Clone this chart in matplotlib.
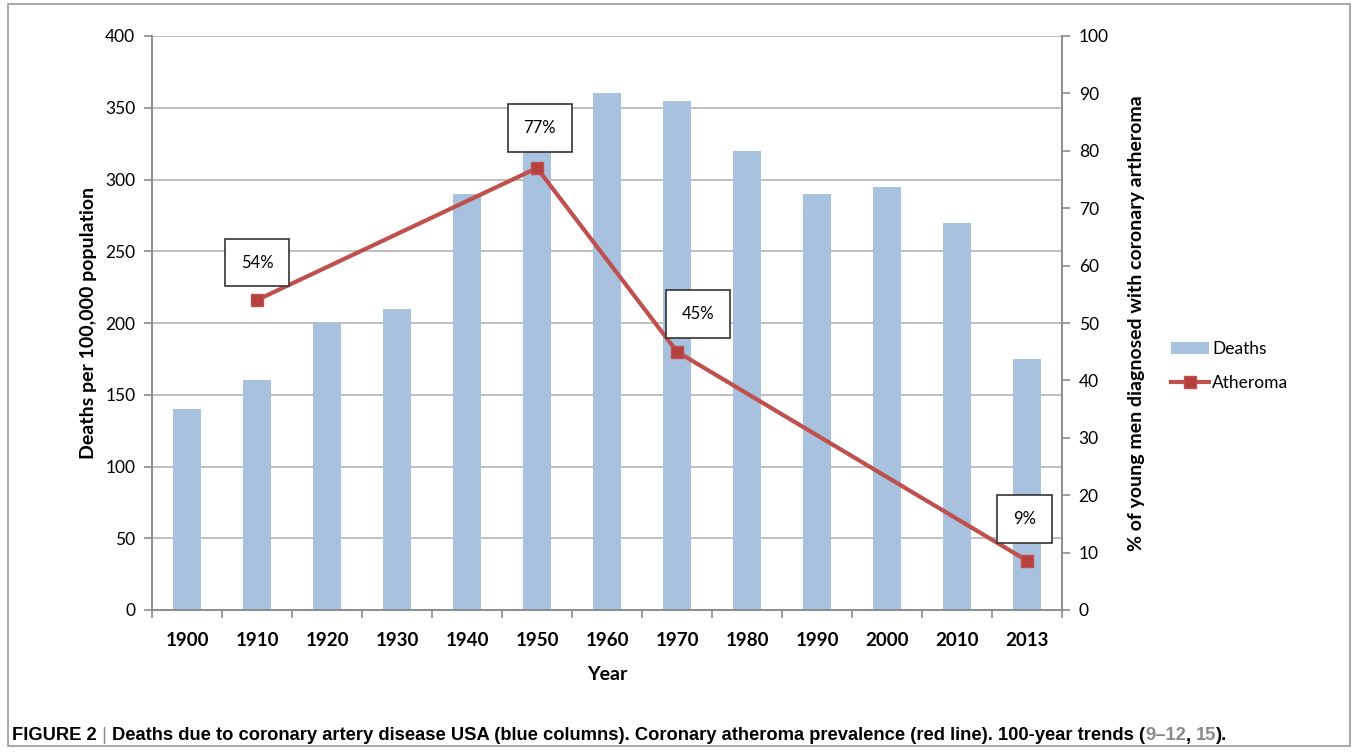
import numpy as np
import matplotlib
matplotlib.use("Agg")
import matplotlib.pyplot as plt
from matplotlib.patches import Rectangle

# ---------------- data ----------------
years = ["1900", "1910", "1920", "1930", "1940", "1950", "1960",
         "1970", "1980", "1990", "2000", "2010", "2013"]
deaths = [140, 160, 200, 210, 290, 320, 360, 355, 320, 290, 295, 270, 175]

athero_years = ["1910", "1950", "1970", "2013"]
athero_pct = [54, 77, 45, 8.6]
athero_labels = ["54%", "77%", "45%", "9%"]

left_ticks = [0, 50, 100, 150, 200, 250, 300, 350, 400]
right_ticks = [0, 10, 20, 30, 40, 50, 60, 70, 80, 90, 100]

BAR_COLOR = "#a7c1df"
LINE_COLOR = "#c0504d"
MARK_COLOR = "#b5403d"
GRID_COLOR = "#b4b4b4"
SPINE_COLOR = "#8c8c8c"

plt.rcParams["font.family"] = ["Lato", "DejaVu Sans"]

fig = plt.figure(figsize=(13.58, 7.52), dpi=100)
ax = fig.add_axes([152 / 1358, 1 - 610 / 752, 910 / 1358, 574 / 752])
ax2 = ax.twinx()

# ---------------- bars ----------------
x = np.arange(len(years))
ax.bar(x, deaths, width=0.4, color=BAR_COLOR, zorder=2, label="Deaths")
ax.set_xlim(-0.5, len(years) - 0.5)
ax.set_ylim(0, 400)
ax.set_yticks(left_ticks)
ax.yaxis.grid(True, color=GRID_COLOR, linewidth=1.2, zorder=0)
ax.set_axisbelow(True)

ax.set_xticks(x)
ax.set_xticklabels(years, fontsize=13.5, fontweight="bold")
ax.set_xticks(np.arange(len(years) + 1) - 0.5, minor=True)
ax.tick_params(axis="x", which="major", length=0, pad=16)
ax.tick_params(axis="x", which="minor", length=6, color=SPINE_COLOR, width=1.2)
ax.tick_params(axis="y", length=6, color=SPINE_COLOR, width=1.2, labelsize=12.5, pad=6)

ax.set_xlabel("Year", fontsize=14, fontweight="bold", labelpad=12)
ax.set_ylabel("Deaths per 100,000 population", fontsize=14, fontweight="bold", labelpad=6)

# ---------------- line (right axis) ----------------
xi = [years.index(y) for y in athero_years]
ax2.plot(xi, athero_pct, color=LINE_COLOR, linewidth=3, marker="s", markersize=9,
         markerfacecolor=MARK_COLOR, markeredgecolor=LINE_COLOR, zorder=4, label="Atheroma")
ax2.set_ylim(0, 100)
ax2.set_yticks(right_ticks)
ax2.tick_params(axis="y", length=6, color=SPINE_COLOR, width=1.2, labelsize=12.5, pad=6)
ax2.set_ylabel("% of young men diagnosed with coronary artheroma", fontsize=14,
               fontweight="bold", rotation=90, labelpad=14)

offsets = [(0, 27), (2, 29), (15, 27), (-2, 30)]
for xv, yv, lab, off in zip(xi, athero_pct, athero_labels, offsets):
    ax2.annotate(lab, (xv, yv), xytext=off, textcoords="offset points",
                 ha="center", va="center", fontsize=12,
                 bbox=dict(boxstyle="square,pad=0.95", fc="white", ec="#333333", lw=1.2),
                 zorder=6)

for a in (ax, ax2):
    a.spines["top"].set_visible(False)
    for s in ("left", "right", "bottom"):
        a.spines[s].set_color(SPINE_COLOR)
        a.spines[s].set_linewidth(1.2)

# ---------------- legend ----------------
h1, l1 = ax.get_legend_handles_labels()
h2, l2 = ax2.get_legend_handles_labels()
fig.legend(h1 + h2, l1 + l2, loc="center left", bbox_to_anchor=(1155 / 1358, 1 - 366 / 752),
           frameon=False, fontsize=12.5, handlelength=2.2, handletextpad=0.2, labelspacing=1.0)

# outer frame
fig.patches.append(Rectangle((8 / 1358, 6 / 752), 1342 / 1358, 742 / 752,
                             transform=fig.transFigure, fill=False, ec="#9a9a9a", lw=1.2))

# ---------------- caption ----------------
cap_font = ["Liberation Sans Narrow", "Liberation Sans", "DejaVu Sans"]
pieces = [("FIGURE 2", "black", "bold"),
          (" | ", "#888888", "normal"),
          ("Deaths due to coronary artery disease USA (blue columns). Coronary atheroma "
           "prevalence (red line). 100-year trends (", "black", "bold"),
          ("9\u201312", "#8a8a8a", "bold"),
          (", ", "black", "bold"),
          ("15", "#8a8a8a", "bold"),
          (").", "black", "bold")]

prev = fig.text(12 / 1358, 1 - 736 / 752, pieces[0][0], color=pieces[0][1],
                fontsize=13.2, fontweight=pieces[0][2], family=cap_font, va="center")
for txt, col, wt in pieces[1:]:
    prev = fig.add_artist(matplotlib.text.Annotation(
        txt, xy=(1, 0.5), xycoords=prev, va="center", ha="left", color=col,
        fontsize=13.2, fontweight=wt, family=cap_font, annotation_clip=False))

fig.savefig("out.png", dpi=100)
